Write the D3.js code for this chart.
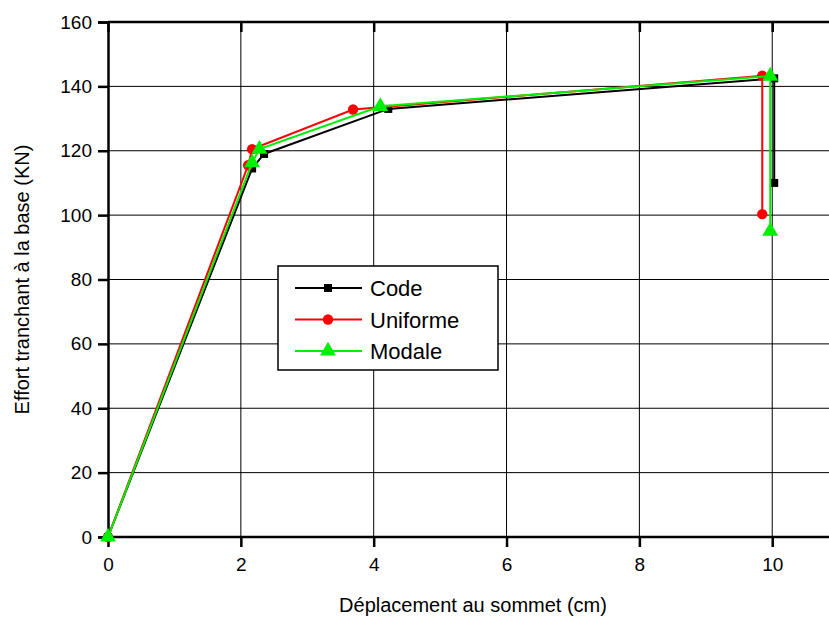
<!DOCTYPE html>
<html>
<head>
<meta charset="utf-8">
<script src="https://cdn.jsdelivr.net/npm/d3@7"></script>
<style>
  body { margin: 0; background: #fff; }
  svg { font-family: "Liberation Sans", Arial, sans-serif; display: block; }
  .grid line { stroke: #000; stroke-width: 1; }
</style>
</head>
<body>
<div id="chart"></div>
<script>
const width = 829;
const height = 623;
const margin = { top: 22, right: -3, bottom: 86, left: 108 };

// data (x in cm, y in KN)
const codeX = [0, 2.17, 2.35, 4.22, 10.03, 10.03];
const codeY = [0, 114.5, 119, 133, 142.5, 110];
const uniformeX = [0, 2.11, 2.17, 3.69, 9.85, 9.85];
const uniformeY = [0, 115.5, 120.5, 132.8, 143.3, 100.3];
const modaleX = [0, 2.17, 2.28, 4.1, 9.97, 9.97];
const modaleY = [0, 116.3, 120.5, 133.8, 143.2, 95];

const xTicks = [0, 2, 4, 6, 8, 10];
const yTicks = [0, 20, 40, 60, 80, 100, 120, 140, 160];

const series = [
  { name: "Code", color: "#000000", symbol: d3.symbolSquare, size: 64, xs: codeX, ys: codeY },
  { name: "Uniforme", color: "#ff0000", symbol: d3.symbolCircle, size: 85, xs: uniformeX, ys: uniformeY },
  { name: "Modale", color: "#00ee00", symbol: d3.symbolTriangle, size: 110, xs: modaleX, ys: modaleY }
];

const svg = d3.select("#chart")
  .append("svg")
  .attr("width", width)
  .attr("height", height);

const x = d3.scaleLinear()
  .domain([0, 10.9])
  .range([margin.left, width - margin.right]);

const y = d3.scaleLinear()
  .domain([0, 160])
  .range([height - margin.bottom, margin.top]);

// grid
svg.append("g")
  .attr("class", "grid")
  .selectAll("line.v")
  .data(xTicks.filter(d => d > 0))
  .join("line")
  .attr("x1", d => x(d)).attr("x2", d => x(d))
  .attr("y1", y(0)).attr("y2", y(160));

svg.append("g")
  .attr("class", "grid")
  .selectAll("line.h")
  .data(yTicks.filter(d => d > 0))
  .join("line")
  .attr("x1", x(0)).attr("x2", width)
  .attr("y1", d => y(d)).attr("y2", d => y(d));

// axes
const xAxis = svg.append("g")
  .attr("transform", `translate(0, ${y(0)})`)
  .call(d3.axisBottom(x).tickValues(xTicks).tickSize(10).tickPadding(11).tickFormat(d3.format("d")));

const topAxis = svg.append("g")
  .attr("transform", `translate(0, ${y(160)})`)
  .call(d3.axisBottom(x).tickValues(xTicks).tickSize(10).tickFormat(""));

const yAxis = svg.append("g")
  .attr("transform", `translate(${x(0)}, 0)`)
  .call(d3.axisLeft(y).tickValues(yTicks).tickSize(10).tickPadding(6));

[xAxis, yAxis, topAxis].forEach(g => {
  g.select(".domain").attr("stroke-width", 2.5);
  g.selectAll(".tick line").attr("stroke-width", 2.5);
  g.selectAll(".tick text").attr("font-size", 19).attr("fill", "#000");
  g.attr("font-family", null);
});
xAxis.select(".domain").attr("d", `M${x(0)},0H${width}`);
topAxis.select(".domain").attr("d", `M${x(0)},0H${width}`);

svg.append("text")
  .attr("x", 473)
  .attr("y", 612)
  .attr("text-anchor", "middle")
  .attr("font-size", 20)
  .text("Déplacement au sommet (cm)");

svg.append("text")
  .attr("transform", "rotate(-90)")
  .attr("x", -(y(0) + y(160)) / 2)
  .attr("y", 29)
  .attr("text-anchor", "middle")
  .attr("font-size", 20)
  .text("Effort tranchant à la base (KN)");

// series
const line = d3.line()
  .x(d => x(d[0]))
  .y(d => y(d[1]));

series.forEach(s => {
  const pts = s.xs.map((v, i) => [v, s.ys[i]]);

  svg.append("path")
    .attr("d", line(pts))
    .attr("fill", "none")
    .attr("stroke", s.color)
    .attr("stroke-width", 2);

  svg.selectAll(null)
    .data(pts)
    .join("path")
    .attr("transform", d => `translate(${x(d[0])}, ${y(d[1])})`)
    .attr("d", d3.symbol().type(s.symbol).size(s.size))
    .attr("fill", s.color);
});

// legend
const legendBox = svg.append("g").attr("transform", "translate(278, 266)");

legendBox.append("rect")
  .attr("width", 220)
  .attr("height", 104)
  .attr("fill", "#fff")
  .attr("stroke", "#000")
  .attr("stroke-width", 1.5);

const legend = legendBox.selectAll(".legend")
  .data(series)
  .join("g")
  .attr("class", "legend")
  .attr("transform", (d, i) => `translate(0, ${22 + i * 31.5})`);

legend.append("line")
  .attr("x1", 17).attr("x2", 84)
  .attr("stroke", d => d.color)
  .attr("stroke-width", 2);

legend.append("path")
  .attr("transform", "translate(50, 0)")
  .attr("d", d => d3.symbol().type(d.symbol).size(d.size)())
  .attr("fill", d => d.color);

legend.append("text")
  .attr("x", 92)
  .attr("y", 8)
  .attr("font-size", 22)
  .text(d => d.name);
</script>
</body>
</html>
